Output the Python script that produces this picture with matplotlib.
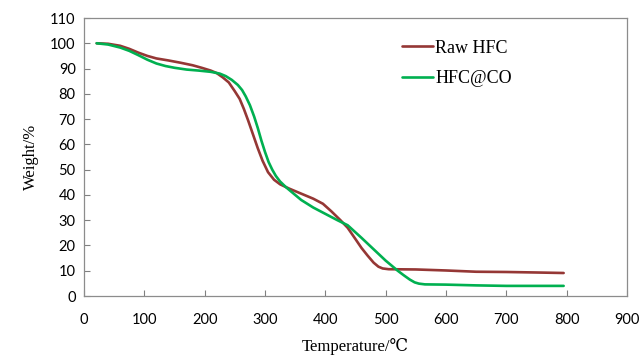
import matplotlib
matplotlib.use("Agg")
import matplotlib.pyplot as plt

# Data (temperature in degC, weight in %)
raw_T = [21, 40, 60, 75, 90, 105, 120, 140, 160, 180, 195, 210, 220, 230, 240, 250,
         258, 265, 272, 280, 288, 296, 305, 315, 325, 340, 360, 380, 396, 410, 425,
         437, 450, 460, 470, 480, 488, 495, 505, 550, 600, 650, 700, 750, 795]
raw_W = [100, 99.8, 99, 97.8, 96.3, 95, 94, 93.2, 92.3, 91.3, 90.3, 89.2, 88.2, 86.5,
         84.5, 81, 78, 74, 69.5, 64, 58.5, 53.5, 49, 46, 44.2, 42.5, 40.5, 38.5, 36.5,
         33.5, 30, 27, 22.5, 19, 16, 13.2, 11.6, 10.9, 10.6, 10.5, 10.1, 9.6, 9.5, 9.3,
         9.1]

co_T = [21, 40, 60, 75, 90, 105, 120, 135, 150, 170, 190, 210, 225, 235, 245, 255,
        262, 268, 275, 282, 288, 294, 300, 306, 312, 318, 325, 335, 345, 360, 380,
        400, 420, 437, 460, 480, 500, 520, 530, 540, 548, 555, 565, 600, 650, 700, 795]
co_W = [100, 99.5, 98.3, 97, 95.3, 93.5, 92, 91, 90.3, 89.6, 89.2, 88.7, 88, 87,
        85.5, 83.5, 81.5, 79, 75.5, 71, 66.5, 61.5, 57, 53, 50, 47.5, 45.3, 43, 41,
        38, 35, 32.5, 30, 28, 23, 18.5, 14, 10, 8.2, 6.5, 5.4, 4.9, 4.6, 4.5, 4.2,
        4.0, 4.0]

x_ticks = [0, 100, 200, 300, 400, 500, 600, 700, 800, 900]
y_ticks = [0, 10, 20, 30, 40, 50, 60, 70, 80, 90, 100, 110]

fig = plt.figure(figsize=(6.42, 3.6), dpi=100)
ax = fig.add_axes([84/642, 1-296/360, (627-84)/642, (296-18)/360])

ax.plot(raw_T, raw_W, color="#953735", lw=1.9, label="Raw HFC", solid_capstyle="round")
ax.plot(co_T, co_W, color="#00B050", lw=1.9, label="HFC@CO", solid_capstyle="round")

ax.set_xlim(0, 900)
ax.set_ylim(0, 110)
ax.set_xticks(x_ticks)
ax.set_yticks(y_ticks)

tick_font = dict(family=["Lato", "DejaVu Sans"], size=10.5)
ax.set_xticklabels([str(t) for t in x_ticks], **tick_font)
ax.set_yticklabels([str(t) for t in y_ticks], **tick_font)
ax.tick_params(direction="in", length=4, width=0.8, color="#808080", pad=6)
ax.tick_params(axis="x", pad=12)

for s in ax.spines.values():
    s.set_color("#8c8c8c")
    s.set_linewidth(0.9)

serif = ["Liberation Serif", "DejaVu Serif"]
ax.set_xlabel("Temperature/\u2103", family=serif, size=12, labelpad=8)
ax.set_ylabel("Weight/%", family=serif, size=12, labelpad=8)

leg = ax.legend(loc="upper left", bbox_to_anchor=(0.555, 0.98), frameon=False,
                prop=dict(family=serif, size=13), handlelength=1.75, handletextpad=0.1,
                labelspacing=0.75)

fig.savefig("out.png", dpi=100)
